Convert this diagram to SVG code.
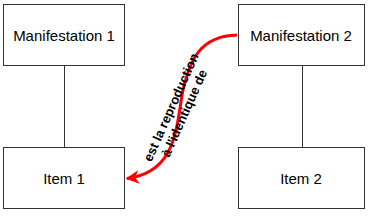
<svg xmlns="http://www.w3.org/2000/svg" width="369" height="216" viewBox="0 0 369 216">
<style>
.box{fill:#fff;stroke:#333;stroke-width:1}
.lbl{font-family:"Liberation Sans",Arial,sans-serif;font-size:15px;fill:#000;text-anchor:middle;dominant-baseline:central}
.edge{fill:none;stroke:#333;stroke-width:1}
.rel{fill:none;stroke:#f00;stroke-width:3}
.elbl{font-family:"Liberation Sans",Arial,sans-serif;font-size:13px;font-weight:bold;fill:#000;text-anchor:middle}
</style>
<defs>
<marker id="arr" viewBox="0 0 10 10" refX="9" refY="5" markerWidth="4.5" markerHeight="4.5" orient="auto" markerUnits="strokeWidth">
<path d="M0,0 L10,5 L0,10 L3,5 z" fill="#f00"/>
</marker>
</defs>
<g id="connectors">
<line class="edge" x1="64.5" y1="66" x2="64.5" y2="147"/>
<line class="edge" x1="302.5" y1="66" x2="302.5" y2="147"/>
<path class="rel" d="M237,35 C200,36 190,60 183,90 C176,125 178,172 127,178.5" marker-end="url(#arr)"/>
<g transform="translate(171.5,107.5) rotate(-66)">
<text class="elbl" x="0" y="4">est la reproduction</text>
<text class="elbl" x="0" y="18.5">à l'identique de</text>
</g>
</g>
<g id="manif1"><rect class="box" x="3.5" y="4.5" width="121" height="61"/><text class="lbl" x="64" y="35">Manifestation 1</text></g>
<g id="manif2"><rect class="box" x="238.5" y="4.5" width="126" height="61"/><text class="lbl" x="301" y="35">Manifestation 2</text></g>
<g id="item1"><rect class="box" x="3.5" y="147.5" width="121" height="61"/><text class="lbl" x="64" y="178">Item 1</text></g>
<g id="item2"><rect class="box" x="238.5" y="147.5" width="126" height="61"/><text class="lbl" x="301" y="178">Item 2</text></g>
</svg>
